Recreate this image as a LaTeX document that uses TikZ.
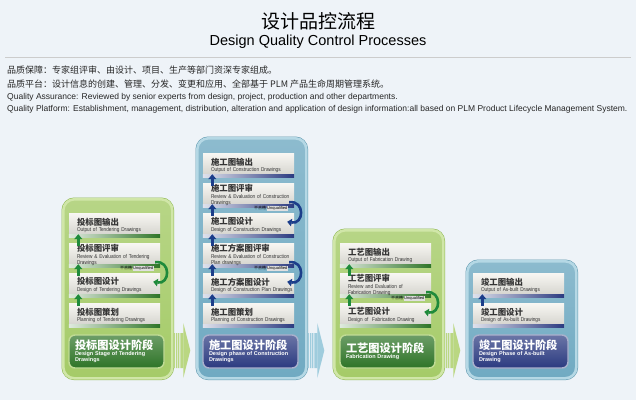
\documentclass[tikz,border=0pt]{standalone}
\usepackage{fontspec}
\setmainfont{Liberation Sans}
\newfontfamily\zh{Noto Sans CJK SC}
\newfontfamily\narrowsf{Liberation Sans}[FakeStretch=0.84]
\usetikzlibrary{arrows.meta,positioning}

\definecolor{pagebg}{HTML}{EEF3F8}
\definecolor{grnfill}{HTML}{A5CB68}
\definecolor{grnlite}{HTML}{D0E6A8}
\definecolor{grnrim}{HTML}{8CB64E}
\definecolor{grnbox}{HTML}{2E7427}
\definecolor{grnarr}{HTML}{1F8A3B}
\definecolor{grnchev}{HTML}{BAD782}
\definecolor{blufill}{HTML}{70AAC2}
\definecolor{blulite}{HTML}{B5D8E5}
\definecolor{blurim}{HTML}{5E97AE}
\definecolor{blubox}{HTML}{2B3A80}
\definecolor{bluarr}{HTML}{1C3E8A}
\definecolor{bluchev}{HTML}{9FCCDD}
\definecolor{cardtop}{HTML}{F8F7F3}
\definecolor{cardbot}{HTML}{D2D1CB}

\newcommand\cardfont{\narrowsf\fontsize{5.6}{6.1}\selectfont}
\newcommand\cardzh[1]{{\zh\bfseries\fontsize{8.4}{9.8}\selectfont #1}}
\newcommand\stagezh[1]{{\zh\bfseries\fontsize{11.2}{13.5}\selectfont #1}}
\newcommand\unq{{\zh 不合格}\,{\setlength\fboxsep{0.5pt}\colorbox{black!12}{Unqualified}}}

\begin{document}
\begin{tikzpicture}[x=1pt, y=-1pt,
    intro/.style={anchor=west, inner sep=0pt, text=black!85},
    panel/.style={rounded corners=11pt, line width=2.6pt, minimum width=109pt,
      anchor=north west, inner sep=0pt},
    gpanel/.style={panel, draw=grnlite, top color=grnfill!80!white, bottom color=grnfill,
      preaction={draw=grnrim, line width=3.6pt}},
    bpanel/.style={panel, draw=blulite, top color=blufill!80!white, bottom color=blufill,
      preaction={draw=blurim, line width=3.6pt}},
    card/.style={minimum width=91pt, minimum height=24pt, inner sep=0pt,
      top color=cardtop, bottom color=cardbot},
    cardtxt/.style={inner sep=0pt, text width=85pt, align=left, text=black!80,
      font=\cardfont},
    gbar/.style={left color=grnbox!15!white, right color=grnbox},
    bbar/.style={left color=blubox!15!white, right color=blubox},
    stage/.style={minimum width=95pt, minimum height=33pt, rounded corners=6pt,
      inner xsep=6pt, text width=83pt, align=left, text=white, line width=1.4pt,
      font=\bfseries\fontsize{5.5}{6.1}\selectfont},
    gstage/.style={stage, draw=grnfill!70!white, top color=grnbox!70!white, bottom color=grnbox},
    bstage/.style={stage, draw=blubox!40!white, top color=blubox!70!white, bottom color=blubox},
    gup/.style={grnarr, line width=2.4pt, -{Triangle[width=8pt,length=5pt]}},
    bup/.style={gup, bluarr},
    gloop/.style={grnarr, line width=2.6pt, -{Triangle[width=7.5pt,length=4.5pt]}},
    bloop/.style={gloop, bluarr},
    nok/.style={anchor=east, inner sep=0.3pt, font=\fontsize{4}{4}\selectfont}]
  \fill[pagebg] (0,0) rectangle (636,400);
  \useasboundingbox (0,0) rectangle (636,400);

  % heading and the two quality notes
  \node[font=\zh\fontsize{19}{21}\selectfont] (title) at (318,21) {设计品控流程};
  \node[font=\fontsize{14.5}{16}\selectfont] (subtitle) at (318,42) {Design Quality Control Processes};
  \draw[black!20, line width=0.6pt] (5,57) -- (631,57);
  \node[intro, font=\zh\fontsize{9}{10}\selectfont] (qa) at (7,70)
    {品质保障：专家组评审、由设计、项目、生产等部门资深专家组成。};
  \node[intro, font=\zh\fontsize{9}{10}\selectfont] (qp) at (7,84)
    {品质平台：设计信息的创建、管理、分发、变更和应用、全部基于 PLM 产品生命周期管理系统。};
  \node[intro, font=\fontsize{8.5}{9}\selectfont] (qae) at (7,97.5)
    {Quality Assurance: Reviewed by senior experts from design, project, production and other departments.};
  \node[intro, font=\fontsize{8.5}{9}\selectfont] (qpe) at (7,109)
    {Quality Platform: Establishment, management, distribution, alteration and application of design information:all based on PLM Product Lifecycle Management System.};

  % the four stage panels
  \node[gpanel, minimum height=179pt] (p1) at (62,198) {};
  \node[bpanel, minimum height=240pt] (p2) at (196,137) {};
  \node[gpanel, minimum height=148pt] (p3) at (333,229) {};
  \node[bpanel, minimum height=117pt] (p4) at (466,260) {};

  % tendering drawings
  \foreach \k/\zhn/\enn in {1/投标图策划/Planning of Tendering Drawings,
      2/投标图设计/Design of Tendering Drawings,
      3/投标图评审/{Review \& Evaluation of Tendering\\Drawings},
      4/投标图输出/Output of Tendering Drawings} {
    \node[card] (a\k) at (114.5,345-30*\k) {};
    \shade[gbar] ([yshift=2.4pt]a\k.south west) rectangle (a\k.south east);
    \node[cardtxt, right=8pt of a\k.west] (ta\k) {\cardzh{\zhn}\\\enn};
  }
  \foreach \k/\n in {1/2, 2/3, 3/4}
    \draw[gup] ([xshift=9.5pt,yshift=-3pt]a\k.north west) -- ([xshift=9.5pt,yshift=3pt]a\n.south west);
  \node[nok] (nq1) at ([xshift=-6pt,yshift=-1.2pt]a3.south east) {\unq};
  \draw[gloop] ([xshift=-5pt,yshift=5pt]a3.south east) .. controls +(16,-2) and +(17,3) .. ([xshift=-7pt,yshift=-9pt]a2.north east);
  \node[gstage] (s1) at (116.5,351.5) {\stagezh{投标图设计阶段}\\Design Stage of Tendering\\Drawings};

  % construction drawings
  \foreach \k/\zhn/\enn in {1/施工图策划/Planning of Construction Drawings,
      2/施工方案图设计/Design of Construction Plan Drawings,
      3/施工方案图评审/{Review \& Evaluation of Construction\\Plan drawings},
      4/施工图设计/Design of Construction Drawings,
      5/施工图评审/{Review \& Evaluation of Construction\\Drawings},
      6/施工图输出/Output of Construction Drawings} {
    \node[card] (b\k) at (248.5,345-30*\k) {};
    \shade[bbar] ([yshift=2.4pt]b\k.south west) rectangle (b\k.south east);
    \node[cardtxt, right=8pt of b\k.west] (tb\k) {\cardzh{\zhn}\\\enn};
  }
  \foreach \k/\n in {1/2, 2/3, 3/4, 4/5, 5/6}
    \draw[bup] ([xshift=9.5pt,yshift=-3pt]b\k.north west) -- ([xshift=9.5pt,yshift=3pt]b\n.south west);
  \foreach \r/\d in {5/4, 3/2} {
    \node[nok] (nqb\r) at ([xshift=-6pt,yshift=-1.2pt]b\r.south east) {\unq};
    \draw[bloop] ([xshift=-5pt,yshift=5pt]b\r.south east) .. controls +(16,-2) and +(17,3) .. ([xshift=-7pt,yshift=-9pt]b\d.north east);
  }
  \node[bstage] (s2) at (250.5,351.5) {\stagezh{施工图设计阶段}\\Design phase of Construction\\Drawings};

  % fabrication drawings
  \foreach \k/\zhn/\enn in {1/工艺图设计/Design of~ Fabrication Drawing,
      2/工艺图评审/{Review and Evaluation of\\Fabrication Drawing},
      3/工艺图输出/Output of Fabrication Drawing} {
    \node[card] (c\k) at (385.5,345-30*\k) {};
    \shade[gbar] ([yshift=2.4pt]c\k.south west) rectangle (c\k.south east);
    \node[cardtxt, right=8pt of c\k.west] (tc\k) {\cardzh{\zhn}\\\enn};
  }
  \foreach \k/\n in {1/2, 2/3}
    \draw[gup] ([xshift=9.5pt,yshift=-3pt]c\k.north west) -- ([xshift=9.5pt,yshift=3pt]c\n.south west);
  \node[nok] (nq3) at ([xshift=-6pt,yshift=-1.2pt]c2.south east) {\unq};
  \draw[gloop] ([xshift=-5pt,yshift=5pt]c2.south east) .. controls +(16,-2) and +(17,3) .. ([xshift=-7pt,yshift=-9pt]c1.north east);
  \node[gstage] (s3) at (387.5,351.5) {\stagezh{工艺图设计阶段}\\Fabrication Drawing};

  % as-built drawings
  \foreach \k/\zhn/\enn in {1/竣工图设计/Design of As-built Drawings,
      2/竣工图输出/Output of As-built Drawings} {
    \node[card] (d\k) at (518.5,345-30*\k) {};
    \shade[bbar] ([yshift=2.4pt]d\k.south west) rectangle (d\k.south east);
    \node[cardtxt, right=8pt of d\k.west] (td\k) {\cardzh{\zhn}\\\enn};
  }
  \draw[bup] ([xshift=9.5pt,yshift=-3pt]d1.north west) -- ([xshift=9.5pt,yshift=3pt]d2.south west);
  \node[bstage] (s4) at (520.5,351.5) {\stagezh{竣工图设计阶段}\\Design Phase of As-built\\Drawing};

  % striped arrows between the stages
  \foreach \cx/\cc in {174/grnchev, 308/bluchev, 444/grnchev} {
    \fill[\cc] (\cx,333) rectangle ++(1.2,35) (\cx+2.1,333) rectangle ++(1.2,35)
      (\cx+4.2,333) rectangle ++(1.2,35) (\cx+6.3,333) rectangle ++(3,35);
    \fill[\cc] (\cx+9.3,323) -- (\cx+16.3,350.5) -- (\cx+9.3,378) -- cycle;
  }
\end{tikzpicture}
\end{document}
